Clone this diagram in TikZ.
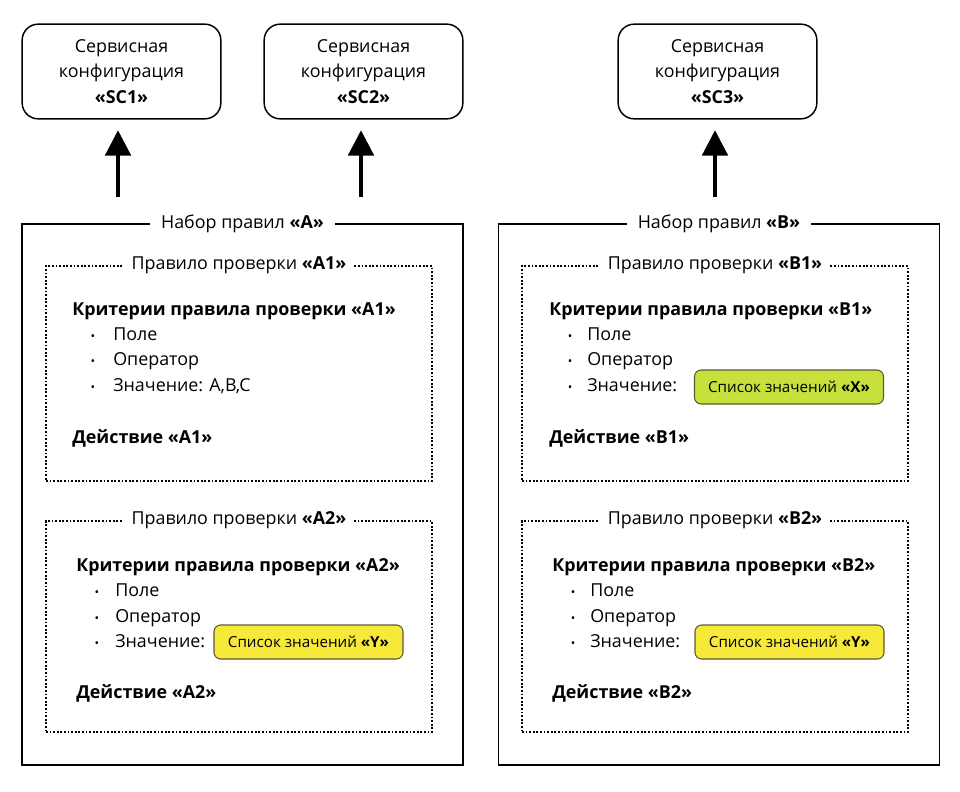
\documentclass[tikz,border=0pt]{standalone}
\usepackage{fontspec}
\setmainfont{Open Sans}
\usetikzlibrary{positioning, arrows.meta, calc}
\definecolor{listyellow}{HTML}{F7E93A}
\definecolor{listgreen}{HTML}{C8E03C}
\definecolor{listedge}{HTML}{5C5A30}
\newcommand{\bodyfont}{\fontsize{13.4}{19}\selectfont}
\newcommand{\listfont}{\fontsize{11.4}{12}\selectfont}

\begin{document}
\begin{tikzpicture}[x=0.75pt, y=-0.75pt,
    every node/.style={font=\bodyfont},
    svcbox/.style={draw, line width=1.1pt, rounded corners=12pt, minimum width=149pt, minimum height=71pt, align=center, inner sep=0pt},
    setbox/.style={draw, line width=1pt, minimum width=330.75pt, minimum height=405.75pt},
    rulebox/.style={draw, line width=1.3pt, dash pattern=on 1.3pt off 1.4pt, minimum width=289.5pt},
    title/.style={fill=white, inner xsep=8pt, inner ysep=2pt},
    txt/.style={anchor=base west, inner sep=0pt},
    dot/.style={anchor=base, inner sep=0pt, font=\small},
    listbox/.style={draw=listedge, line width=0.8pt, rounded corners=5pt, minimum width=141.75pt, minimum height=25.5pt, font=\listfont},
    uparrow/.style={line width=3pt, -{Triangle[length=19pt, width=19pt]}, shorten >=8pt}]
        \useasboundingbox (0,0) rectangle (960,792);

        % Service configurations
        \node[svcbox] (sc1) at (121.5,71.5) {Сервисная\\конфигурация\\\textbf{«SC1»}};
        \node[svcbox] (sc2) at (363.5,71.5) {Сервисная\\конфигурация\\\textbf{«SC2»}};
        \node[svcbox] (sc3) at (717.5,71.5) {Сервисная\\конфигурация\\\textbf{«SC3»}};

        % Rule sets
        \node[setbox] (setA) at (242.5,494.5) {};
        \node[title] (setAtitle) at (setA.north) {Набор правил \textbf{«A»}};
        \node[setbox] (setB) at (719,494.5) {};
        \node[title] (setBtitle) at (setB.north) {Набор правил \textbf{«B»}};

        % Arrows up to the configurations
        \coordinate (a1) at (118,197);
        \coordinate (a2) at (361,197);
        \coordinate (a3) at (715,197);
        \draw[uparrow] (a1) -- (a1 |- sc1.south);
        \draw[uparrow] (a2) -- (a2 |- sc2.south);
        \draw[uparrow] (a3) -- (a3 |- sc3.south);

        % Rule A1
        \begin{scope}
            \node[rulebox, minimum height=161.25pt] (ruleA1) at (239,373.5) {};
            \node[title, inner xsep=6pt] (ruleA1title) at (ruleA1.north) {Правило проверки \textbf{«A1»}};
            \node[txt] (critA1) at (72,315) {\textbf{Критерии правила проверки «A1»}};
            \node[dot] at (93,340) {•};
            \node[txt] (fieldA1) at (113,340) {Поле};
            \node[dot] at (93,365) {•};
            \node[txt] (opA1) at (113,365) {Оператор};
            \node[dot] at (93,391) {•};
            \node[txt] (valA1) at (113,391) {Значение: A,B,C};
            \node[txt] (actA1) at (72,443) {\textbf{Действие «A1»}};
        \end{scope}

        % Rule A2
        \begin{scope}
            \node[rulebox, minimum height=158.25pt] (ruleA2) at (239,626.5) {};
            \node[title, inner xsep=6pt] (ruleA2title) at (ruleA2.north) {Правило проверки \textbf{«A2»}};
            \node[txt] (critA2) at (76,571) {\textbf{Критерии правила проверки «A2»}};
            \node[dot] at (97,596) {•};
            \node[txt] (fieldA2) at (115,596) {Поле};
            \node[dot] at (97,622) {•};
            \node[txt] (opA2) at (115,622) {Оператор};
            \node[dot] at (97,647) {•};
            \node[txt] (valA2) at (115,647) {Значение:};
            \node[listbox, fill=listyellow] (listA2) at (308.5,642) {Список значений \textbf{«Y»}};
            \node[txt] (actA2) at (76,698) {\textbf{Действие «A2»}};
        \end{scope}

        % Rule B1
        \begin{scope}
            \node[rulebox, minimum height=161.25pt] (ruleB1) at (715,373.5) {};
            \node[title, inner xsep=6pt] (ruleB1title) at (ruleB1.north) {Правило проверки \textbf{«B1»}};
            \node[txt] (critB1) at (549,315) {\textbf{Критерии правила проверки «B1»}};
            \node[dot] at (570,340) {•};
            \node[txt] (fieldB1) at (587,340) {Поле};
            \node[dot] at (570,365) {•};
            \node[txt] (opB1) at (587,365) {Оператор};
            \node[dot] at (570,391) {•};
            \node[txt] (valB1) at (587,391) {Значение:};
            \node[listbox, fill=listgreen] (listB1) at (789,387) {Список значений \textbf{«X»}};
            \node[txt] (actB1) at (549,443) {\textbf{Действие «B1»}};
        \end{scope}

        % Rule B2
        \begin{scope}
            \node[rulebox, minimum height=158.25pt] (ruleB2) at (715,626.5) {};
            \node[title, inner xsep=6pt] (ruleB2title) at (ruleB2.north) {Правило проверки \textbf{«B2»}};
            \node[txt] (critB2) at (552,571) {\textbf{Критерии правила проверки «B2»}};
            \node[dot] at (573,596) {•};
            \node[txt] (fieldB2) at (590,596) {Поле};
            \node[dot] at (573,622) {•};
            \node[txt] (opB2) at (590,622) {Оператор};
            \node[dot] at (573,647) {•};
            \node[txt] (valB2) at (590,647) {Значение:};
            \node[listbox, fill=listyellow] (listB2) at (789.5,642) {Список значений \textbf{«Y»}};
            \node[txt] (actB2) at (552,698) {\textbf{Действие «B2»}};
        \end{scope}
    \end{tikzpicture}
\end{document}
